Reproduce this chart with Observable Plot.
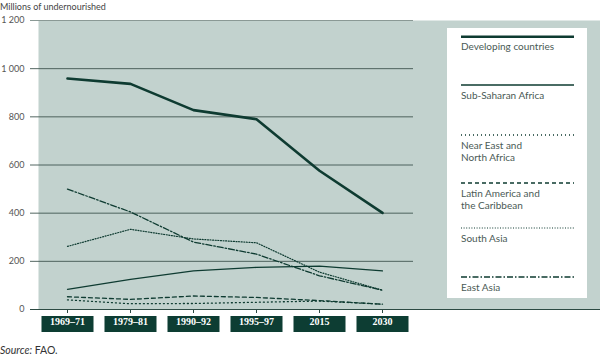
<!DOCTYPE html>
<html><head><meta charset="utf-8">
<script src="https://cdn.jsdelivr.net/npm/d3@7"></script>
<script src="https://cdn.jsdelivr.net/npm/@observablehq/plot@0.6"></script>
<style>
body{margin:0;background:#fff;}
#wrap{position:relative;width:600px;height:357px;overflow:hidden;font-family:Lato,"Open Sans",sans-serif;}
#title{height:14px;line-height:14px;font-size:9px;color:#444;}
#caption{height:14px;line-height:14px;font-size:10.5px;color:#333;}
#legend{position:absolute;left:447px;top:28px;}
</style></head>
<body><div id="wrap">
<div id="title">Millions of undernourished</div>
<div id="chart"></div>
<div id="caption"><i>Source:</i> FAO.</div>
<div id="legend"></div>
</div>
<script>
const periods = ["1969–71","1979–81","1990–92","1995–97","2015","2030"];
const seriesNames = ["Developing countries","Sub-Saharan Africa","Near East and North Africa","Latin America and the Caribbean","South Asia","East Asia"];
const developing = [959, 937, 828, 790, 576, 401];
const subSaharan = [84, 125, 160, 175, 180, 160];
const nearEast = [40, 24, 25, 30, 35, 22];
const latinAmerica = [53, 42, 56, 50, 37, 22];
const southAsia = [262, 333, 293, 277, 155, 80];
const eastAsia = [500, 405, 280, 230, 140, 80];
const yTicks = [0, 200, 400, 600, 800, 1000, 1200];

const seriesValues = [developing, subSaharan, nearEast, latinAmerica, southAsia, eastAsia];
const styles = {
  "Developing countries": {w: 2.6, dash: null},
  "Sub-Saharan Africa": {w: 1.3, dash: null},
  "Near East and North Africa": {w: 1.3, dash: "1,3"},
  "Latin America and the Caribbean": {w: 1.3, dash: "4,3"},
  "South Asia": {w: 1.2, dash: "1,1.6"},
  "East Asia": {w: 1.3, dash: "6,2,1.5,2"}
};
const ink = "#0e3b31";
const rows = seriesNames.flatMap((s, i) => periods.map((p, j) => ({series: s, period: p, value: seriesValues[i][j]})));
const fmt = d3.formatLocale({thousands: " ", grouping: [3], decimal: "."}).format(",");

const lineMarks = seriesNames.map(s => Plot.line(rows.filter(r => r.series === s), {
  x: "period", y: "value", stroke: ink, strokeWidth: styles[s].w,
  strokeDasharray: styles[s].dash, strokeLinejoin: "round"
}));

const plot = Plot.plot({
  width: 600, height: 329,
  marginLeft: 38, marginRight: 0, marginTop: 6, marginBottom: 34,
  style: {fontFamily: "Lato, 'Open Sans', sans-serif", background: "transparent", overflow: "visible"},
  x: {type: "point", domain: periods, range: [65, 383], padding: 0, axis: null},
  y: {domain: [0, 1200], axis: null},
  marks: [
    Plot.frame({fill: "#c2d2ce", stroke: null}),
    Plot.ruleY(yTicks.filter(d => d > 0 && d < 1200), {stroke: "#3f5550", strokeWidth: 0.9, insetLeft: -8, insetRight: 187}),
    Plot.ruleY([1200], {stroke: "#8a9995", strokeWidth: 1.2, insetLeft: -8, insetRight: 187}),
    Plot.ruleY([0], {stroke: "#2c4a43", strokeWidth: 1, insetLeft: -8}),
    Plot.axisY({ticks: yTicks, tickSize: 0, tickPadding: 14, tickFormat: fmt, fontSize: 9, fill: "#555", label: null}),
    Plot.ruleX(periods, {x: d => d, stroke: "#2c4a43", strokeWidth: 1, insetTop: 289, insetBottom: -4}),
    Plot.ruleX(periods, {x: d => d, stroke: "#0d3d33", strokeWidth: 52, insetTop: 296, insetBottom: -23}),
    Plot.text(periods, {x: d => d, text: d => d, frameAnchor: "bottom", dy: 15, fill: "#fff",
      fontSize: 10, fontWeight: "bold", fontFamily: "'Liberation Serif', 'DejaVu Serif', serif"}),
    ...lineMarks
  ]
});
document.getElementById("chart").appendChild(plot);

// legend
const lineY = [8.7, 57, 107, 155, 200, 249];
const textLines = [["Developing countries"],["Sub-Saharan Africa"],["Near East and","North Africa"],["Latin America and","the Caribbean"],["South Asia"],["East Asia"]];
const ns = "http://www.w3.org/2000/svg";
const lg = document.createElementNS(ns, "svg");
lg.setAttribute("width", 140); lg.setAttribute("height", 270);
lg.innerHTML = `<rect width="140" height="270" fill="#fff"/>` + seriesNames.map((s, i) => {
  const st = styles[s];
  let out = `<line x1="14" x2="127" y1="${lineY[i]}" y2="${lineY[i]}" stroke="${ink}" stroke-width="${st.w}" ${st.dash ? `stroke-dasharray="${st.dash}"` : ""}/>`;
  textLines[i].forEach((t, k) => {
    out += `<text x="14" y="${lineY[i] + 13.5 + k * 12}" font-size="10" fill="#4a5a55" font-family="Lato, 'Open Sans', sans-serif">${t}</text>`;
  });
  return out;
}).join("");
document.getElementById("legend").appendChild(lg);
</script>
</body></html>
